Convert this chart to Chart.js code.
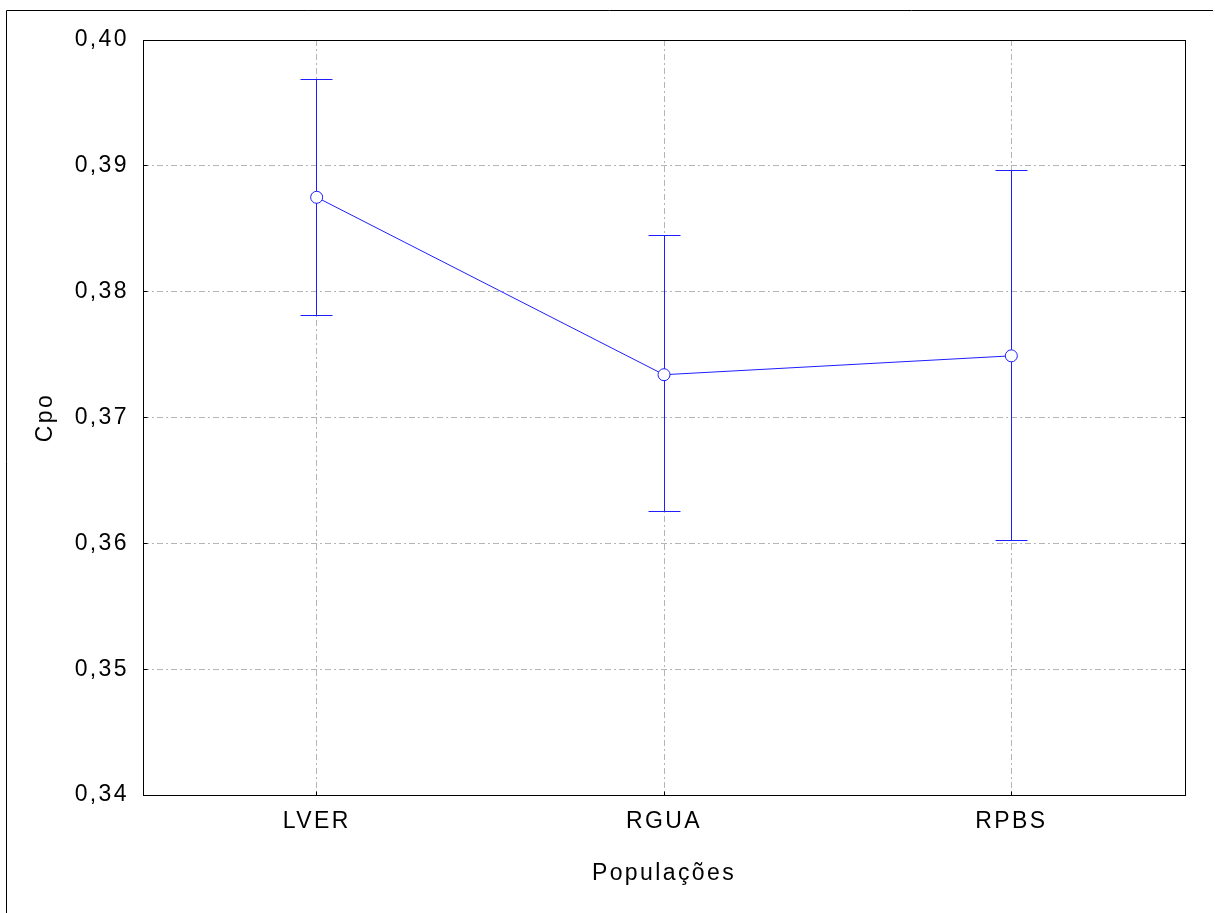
<!DOCTYPE html>
<html>
<head>
<meta charset="utf-8">
<script src="https://cdn.jsdelivr.net/npm/chart.js@4"></script>
<style>
  html, body { margin: 0; padding: 0; background: #fff; }
  #wrap { width: 1215px; height: 913px; }
</style>
</head>
<body>
<div id="wrap"><canvas id="chart" width="1215" height="913"></canvas></div>
<script>
const populations = ['LVER', 'RGUA', 'RPBS'];
const means = [0.3875, 0.3734, 0.3749];
const upper = [0.3969, 0.3845, 0.3896];
const lower = [0.3781, 0.3625, 0.3602];
const yTickLabels = ['0,34', '0,35', '0,36', '0,37', '0,38', '0,39', '0,40'];

const blue = 'rgb(30,30,255)';
const font = { family: "'Liberation Sans', Arial, sans-serif", size: 23 };

// same pixel snapping as chart.js uses for 1px lines
const snap = v => Math.round(v - 0.5) + 0.5;

// canvas letter spacing, the original text is spaced out
const spacing = {
    id: 'spacing',
    beforeUpdate(chart) { chart.ctx.letterSpacing = '2.4px'; },
    beforeDraw(chart) { chart.ctx.letterSpacing = '2.4px'; }
};

const errorBars = {
    id: 'errorBars',
    beforeDatasetsDraw(chart) {
        const { ctx, scales: { x, y } } = chart;
        ctx.save();
        ctx.setLineDash([]);
        ctx.strokeStyle = blue;
        ctx.lineWidth = 1;
        populations.forEach((p, i) => {
            const px = snap(x.getPixelForValue(i));
            const top = snap(y.getPixelForValue(upper[i]));
            const bot = snap(y.getPixelForValue(lower[i]));
            ctx.beginPath();
            ctx.moveTo(px, top);
            ctx.lineTo(px, bot);
            ctx.moveTo(px - 16, top);
            ctx.lineTo(px + 16, top);
            ctx.moveTo(px - 16, bot);
            ctx.lineTo(px + 16, bot);
            ctx.stroke();
        });
        ctx.restore();
    }
};

const frame = {
    id: 'frame',
    afterDraw(chart) {
        const { ctx, chartArea: a, scales: { x, y } } = chart;
        ctx.save();
        ctx.setLineDash([]);
        ctx.strokeStyle = '#000';
        ctx.lineWidth = 1;
        const l = snap(a.left), r = snap(a.right);
        const t = snap(a.top), b = snap(a.bottom);
        ctx.strokeRect(l, t, r - l, b - t);
        // inward ticks
        ctx.beginPath();
        y.ticks.forEach(tk => {
            const py = snap(y.getPixelForValue(tk.value));
            ctx.moveTo(l, py); ctx.lineTo(l + 4, py);
            ctx.moveTo(r, py); ctx.lineTo(r - 4, py);
        });
        populations.forEach((p, i) => {
            const px = snap(x.getPixelForValue(i));
            ctx.moveTo(px, b); ctx.lineTo(px, b - 4);
        });
        ctx.stroke();
        // outer page frame (top and left)
        ctx.beginPath();
        ctx.moveTo(6.5, 913);
        ctx.lineTo(6.5, 10.5);
        ctx.lineTo(1213, 10.5);
        ctx.stroke();
        ctx.restore();
    }
};

new Chart(document.getElementById('chart'), {
    type: 'line',
    data: {
        labels: populations,
        datasets: [{
            data: means,
            borderColor: blue,
            borderWidth: 1,
            pointRadius: 6,
            pointBorderWidth: 1,
            pointBackgroundColor: '#fff',
            pointBorderColor: blue,
            tension: 0
        }]
    },
    options: {
        responsive: false,
        animation: false,
        events: [],
        layout: { padding: { top: 40, right: 30, left: 0, bottom: 0 } },
        plugins: { legend: { display: false }, tooltip: { enabled: false } },
        scales: {
            x: {
                offset: true,
                afterFit(s) { s.height = 118; },
                grid: { offset: false, color: '#b4b4b4', drawTicks: false },
                border: { display: false, dash: [6, 3, 2, 3] },
                ticks: { color: '#000', font, padding: 13 },
                title: { display: true, text: 'Populações', color: '#000', font, padding: { top: 0, bottom: 26 } }
            },
            y: {
                min: 0.34,
                max: 0.40,
                afterFit(s) { s.width = 143; },
                grid: { color: '#b4b4b4', drawTicks: false },
                border: { display: false, dash: [6, 3, 2, 3] },
                ticks: {
                    stepSize: 0.01,
                    color: '#000',
                    font,
                    padding: 14,
                    callback: (v, i) => yTickLabels[i]
                },
                title: { display: true, text: 'Cpo', color: '#000', font, padding: { top: 32, bottom: 0 } }
            }
        }
    },
    plugins: [spacing, errorBars, frame]
});
</script>
</body>
</html>
